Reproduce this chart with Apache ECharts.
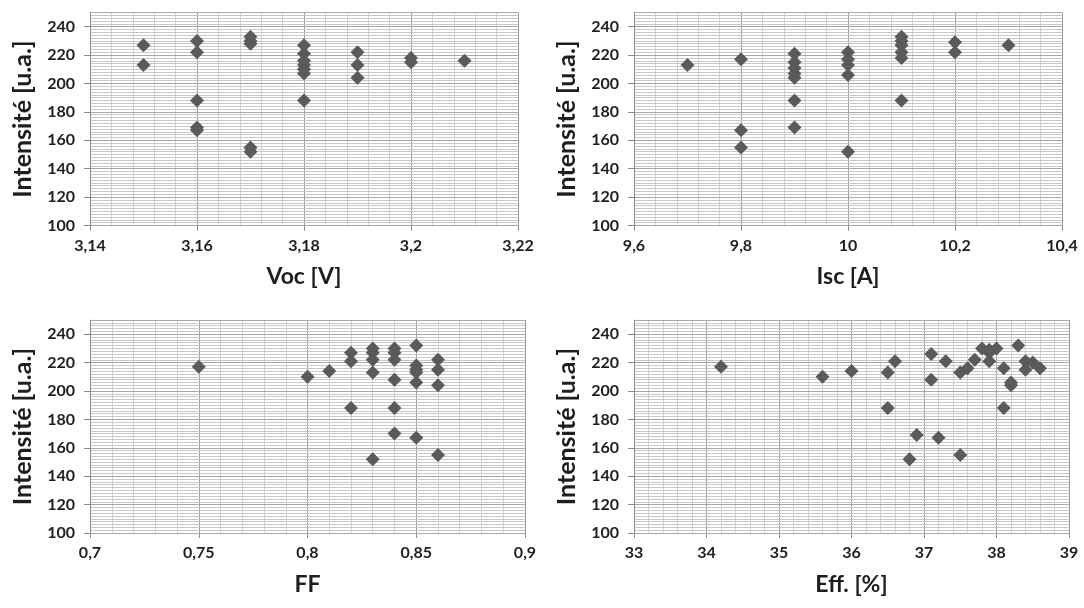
<!DOCTYPE html>
<html>
<head>
<meta charset="utf-8">
<script src="https://cdn.jsdelivr.net/npm/echarts@6/dist/echarts.min.js"></script>
<style>
html,body{margin:0;padding:0;background:#fff;}
#c{width:1084px;height:608px;}
</style>
</head>
<body>
<div id="c"></div>
<script>
// ---- Data ----
const yName = 'Intensité [u.a.]';

const vocX = [3.15,3.15, 3.16,3.16,3.16,3.16,3.16, 3.17,3.17,3.17,3.17,3.17, 3.18,3.18,3.18,3.18,3.18,3.18,3.18, 3.19,3.19,3.19, 3.2,3.2, 3.21];
const vocY = [227,213, 230,222,188,169,167, 233,230,228,155,152, 227,221,216,213,210,207,188, 222,213,204, 218,215, 216];

const iscX = [9.7, 9.8,9.8,9.8, 9.9,9.9,9.9,9.9,9.9,9.9,9.9, 10,10,10,10,10, 10.1,10.1,10.1,10.1,10.1,10.1, 10.2,10.2, 10.3];
const iscY = [213, 217,167,155, 221,215,211,207,204,188,169, 222,217,213,206,152, 233,230,227,222,218,188, 229,222, 227];

const ffX = [0.75, 0.80, 0.81, 0.82,0.82,0.82, 0.83,0.83,0.83,0.83,0.83, 0.84,0.84,0.84,0.84,0.84,0.84, 0.85,0.85,0.85,0.85,0.85,0.85, 0.86,0.86,0.86,0.86];
const ffY = [217, 210, 214, 227,221,188, 230,227,222,213,152, 230,227,222,208,188,170, 232,218,215,213,206,167, 222,215,204,155];

const effX = [34.2, 35.6, 36.0, 36.5, 36.6, 36.5, 36.8, 36.9, 37.1, 37.1, 37.2, 37.3, 37.5, 37.5, 37.6, 37.7, 37.8, 37.9, 37.9, 37.9, 38.0, 38.1, 38.1, 38.2, 38.2, 38.3, 38.4, 38.4, 38.5, 38.6];
const effY = [217, 210, 214, 213, 221, 188, 152, 169, 226, 208, 167, 221, 213, 155, 216, 222, 230, 229, 227, 221, 230, 216, 188, 206, 204, 232, 221, 215, 220, 216];

// axis ranges / tick settings
const xAxesDef = [
  {name:'Voc [V]',  min:3.14, max:3.22, interval:0.02},
  {name:'Isc [A]',  min:9.6,  max:10.4, interval:0.2},
  {name:'FF',       min:0.7,  max:0.9,  interval:0.05},
  {name:'Eff. [%]', min:33,   max:39,   interval:1}
];
const yMin = 100, yMax = 250, yInterval = 20, yMinorInterval = 2;

// ---- layout ----
const grids = [
  {left:90,  top:12.5, width:428, height:213},
  {left:634, top:12.5, width:428, height:213},
  {left:90,  top:320,  width:435, height:213},
  {left:634, top:320,  width:435, height:213}
];

const FONT = 'Lato, "Open Sans", sans-serif';
const TXT = '#1e1e1e';

function fmt(v){
  return String(parseFloat(Number(v).toFixed(4))).replace('.', ',');
}

const xAxis = [], yAxis = [], series = [];
const sets = [[vocX,vocY],[iscX,iscY],[ffX,ffY],[effX,effY]];

grids.forEach((g, i) => {
  const d = xAxesDef[i];
  xAxis.push({
    type:'value', gridIndex:i, min:d.min, max:d.max, interval:d.interval,
    name:d.name, nameLocation:'middle', nameGap:40,
    nameTextStyle:{fontFamily:FONT, fontSize:23, fontWeight:'bold', color:TXT},
    axisLine:{show:true, onZero:false, lineStyle:{color:'#8c8c8c', width:1}},
    axisTick:{show:true, length:5, lineStyle:{color:'#8c8c8c'}},
    axisLabel:{formatter:fmt, fontFamily:FONT, fontSize:16, fontWeight:'bold', color:TXT, margin:12},
    splitLine:{show:true, lineStyle:{color:'#9a9a9a', width:1}},
    minorTick:{show:false, splitNumber:5},
    minorSplitLine:{show:true, lineStyle:{color:'#d2d2d2', width:1}}
  });
  // main y axis (labels, ticks)
  yAxis.push({
    type:'value', gridIndex:i, min:yMin, max:yMax, interval:yInterval, position:'left',
    name:yName, nameLocation:'middle', nameGap:55, nameRotate:90,
    nameTextStyle:{fontFamily:FONT, fontSize:25, fontWeight:'bold', color:TXT},
    axisLine:{show:true, lineStyle:{color:'#8c8c8c', width:1}},
    axisTick:{show:true, length:6, lineStyle:{color:'#8c8c8c'}},
    axisLabel:{fontFamily:FONT, fontSize:16, fontWeight:'bold', color:TXT, margin:15, showMaxLabel:false},
    splitLine:{show:true, lineStyle:{color:'#a8a8a8', width:1}},
    z:3
  });
  // grid-only y axis (minor horizontal lines every 2)
  yAxis.push({
    type:'value', gridIndex:i, min:yMin, max:yMax, interval:yMinorInterval, position:'left',
    axisLine:{show:false}, axisTick:{show:false}, axisLabel:{show:false},
    splitLine:{show:true, lineStyle:{color:'#c8c8c8', width:1}},
    z:1
  });
  const [xs, ys] = sets[i];
  series.push({
    type:'scatter', xAxisIndex:i, yAxisIndex:2*i,
    symbol:'diamond', symbolSize:14,
    itemStyle:{color:'#5a5a5a', opacity:1},
    data: xs.map((x, k) => [x, ys[k]]),
    z:5
  });
});

const chart = echarts.init(document.getElementById('c'), null, {renderer:'canvas'});
chart.setOption({
  animation:false,
  backgroundColor:'#ffffff',
  grid: grids.map(g => Object.assign({containLabel:false}, g)),
  xAxis, yAxis, series
});
</script>
</body>
</html>
